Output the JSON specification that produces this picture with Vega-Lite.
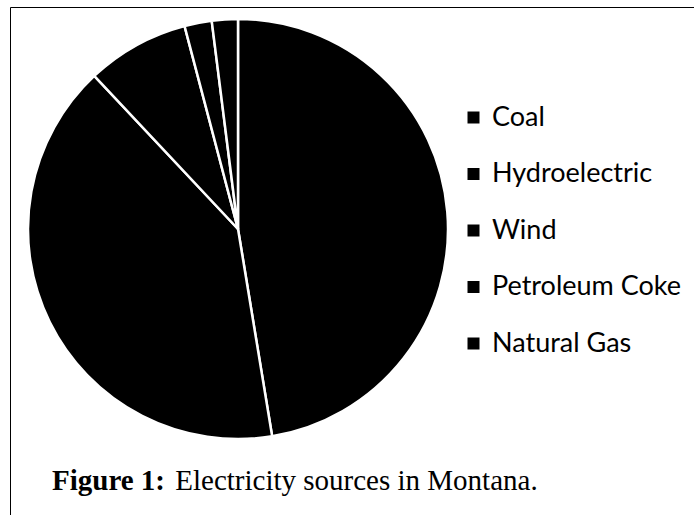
{
  "$schema": "https://vega.github.io/schema/vega-lite/v6.json",
  "autosize": {"type": "none"},
  "width": 420,
  "height": 420,
  "padding": {"left": 28, "top": 19, "right": 246, "bottom": 76},
  "background": "white",
  "data": {
    "values": [
      {"source": "Coal", "share": 47.4, "rank": 1},
      {"source": "Hydroelectric", "share": 40.6, "rank": 2},
      {"source": "Wind", "share": 7.9, "rank": 3},
      {"source": "Petroleum Coke", "share": 2.1, "rank": 4},
      {"source": "Natural Gas", "share": 2.0, "rank": 5}
    ]
  },
  "title": {
    "text": "Figure 1:",
    "subtitle": "\u200b\u00a0\u00a0\u00a0\u00a0\u00a0\u00a0\u00a0\u00a0\u00a0\u00a0\u00a0\u00a0\u00a0\u00a0\u00a0\u00a0\u00a0Electricity sources in Montana.",
    "orient": "bottom",
    "anchor": "start",
    "frame": "group",
    "dx": 24,
    "offset": -98,
    "font": "Liberation Serif",
    "fontSize": 29,
    "fontWeight": "bold",
    "color": "black",
    "subtitleFont": "Liberation Serif",
    "subtitleFontSize": 29,
    "subtitleFontWeight": "normal",
    "subtitleColor": "black",
    "subtitlePadding": -29
  },
  "mark": {"type": "arc", "stroke": "white", "strokeWidth": 2.5},
  "encoding": {
    "theta": {"field": "share", "type": "quantitative", "stack": true},
    "order": {"field": "rank", "type": "quantitative"},
    "color": {
      "field": "source",
      "type": "nominal",
      "scale": {
        "domain": ["Coal", "Hydroelectric", "Wind", "Petroleum Coke", "Natural Gas"],
        "range": ["black", "black", "black", "black", "black"]
      },
      "legend": {
        "title": " ",
        "titleOrient": "bottom",
        "titlePadding": 100,
        "titleFontSize": 10,
        "orient": "none",
        "legendX": -18,
        "legendY": -12,
        "padding": 97,
        "strokeColor": "black",
        "symbolType": "square",
        "symbolSize": 144,
        "symbolStrokeWidth": 0,
        "symbolOpacity": 1,
        "symbolOffset": 353,
        "labelOffset": 5,
        "labelFont": "Lato",
        "labelFontSize": 27,
        "labelColor": "black",
        "labelLimit": 400,
        "rowPadding": 28.5,
        "encode": {"legend": {"update": {"strokeWidth": {"value": 2}}}}
      }
    }
  },
  "config": {
    "view": {"stroke": null}
  }
}
